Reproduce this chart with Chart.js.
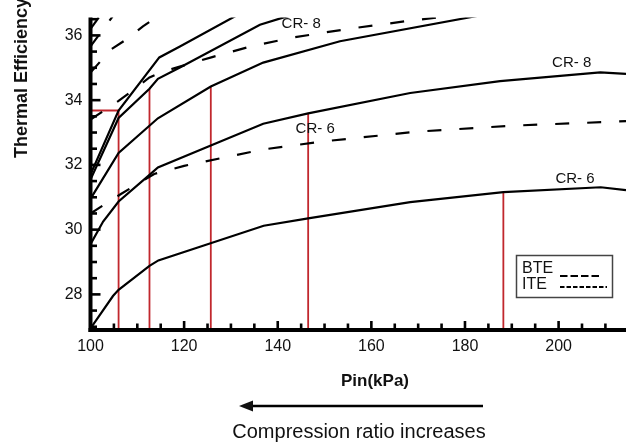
<!DOCTYPE html>
<html>
<head>
<meta charset="utf-8">
<script src="https://cdn.jsdelivr.net/npm/chart.js@4.4.1/dist/chart.umd.min.js"></script>
<style>
  html, body { margin: 0; padding: 0; background: #fff; }
  #wrap { width: 626px; height: 444px; }
</style>
</head>
<body>
<div id="wrap"><canvas id="chart" width="626" height="444"></canvas></div>
<script>
// Intake pressure (kPa) against thermal efficiency (%).
// Solid = brake thermal efficiency, dashed = indicated thermal efficiency.
const bteCr6Pin = [100, 104.8, 106, 112.6, 114.5, 125.5, 137, 146.5, 168.3, 188.2, 209, 214.4];
const bteCr6Eff = [26.95, 27.95, 28.14, 28.88, 29.05, 29.57, 30.12, 30.35, 30.85, 31.16, 31.31, 31.22];

const bteCr8Pin = [100, 102.7, 106, 112.6, 114.4, 125.7, 136.9, 146.5, 168.3, 187.5, 208.9, 214.4];
const bteCr8Eff = [29.55, 30.25, 30.87, 31.69, 31.92, 32.6, 33.27, 33.59, 34.22, 34.59, 34.86, 34.81];

const bteCr10Pin = [100, 106, 114.4, 125.7, 136.9, 153.3, 182.6];
const bteCr10Eff = [30.95, 32.37, 33.44, 34.42, 35.16, 35.82, 36.6];

const bteCr12Pin = [100, 106, 112.6, 114.4, 119.1, 136.2, 141.1, 146];
const bteCr12Eff = [31.55, 33.45, 34.35, 34.66, 35.01, 36.33, 36.55, 36.75];

const bteCr14Pin = [100, 106, 114.7, 119.1, 131];
const bteCr14Eff = [31.7, 33.68, 35.32, 35.66, 36.6];

const iteCr6Pin = [100, 106.5, 113.6, 120, 137, 150, 170, 190, 214.4];
const iteCr6Eff = [30.5, 31.1, 31.72, 31.97, 32.48, 32.73, 33.03, 33.21, 33.35];

const iteCr8Pin = [100, 106, 109, 112.6, 115.4, 126, 134, 143, 155, 168, 180];
const iteCr8Eff = [33.4, 33.98, 34.3, 34.7, 34.88, 35.33, 35.65, 35.93, 36.2, 36.45, 36.65];

const iteCr10Pin = [100, 104.4, 107.6, 111.2, 115];
const iteCr10Eff = [34.85, 35.57, 35.87, 36.28, 36.65];

const iteCr12Pin = [100, 104.7];
const iteCr12Eff = [35.66, 36.58];

const iteCr14Pin = [100, 102];
const iteCr14Eff = [36.2, 36.6];

// operating points picked off the curves (red drop lines)
const markPin = [106, 112.6, 125.7, 146.5, 188.2];
const markEff = [33.68, 34.35, 34.42, 33.59, 31.16];

const pinTicks = [100, 120, 140, 160, 180, 200];
const effTicks = [28, 30, 32, 34, 36];
const pinRange = [100, 214.4];
const effRange = [26.9, 36.55];

const curveLabels = [
  { text: 'CR- 8', pin: 145, eff: 36.36 },
  { text: 'CR- 8', pin: 202.8, eff: 35.16 },
  { text: 'CR- 6', pin: 148, eff: 33.1 },
  { text: 'CR- 6', pin: 203.5, eff: 31.58 },
];

const FONT = "'Liberation Sans', Arial, Helvetica, sans-serif";

function toPoints(xs, ys) {
  return xs.map((x, i) => ({ x, y: ys[i] }));
}

function curve(xs, ys, dashed) {
  return {
    data: toPoints(xs, ys),
    borderColor: '#000',
    borderWidth: 2.2,
    borderDash: dashed ? [14, 18] : [],
    pointRadius: 0,
    tension: 0,
    fill: false,
  };
}

function dropLine(points) {
  return {
    data: points,
    borderColor: '#c1272d',
    borderWidth: 1.8,
    pointRadius: 0,
    tension: 0,
    fill: false,
  };
}

const drops = markPin.map((p, i) => dropLine([{ x: p, y: effRange[0] }, { x: p, y: markEff[i] }]));
drops.push(dropLine([{ x: pinRange[0], y: markEff[0] }, { x: markPin[0], y: markEff[0] }]));

const datasets = [
  curve(bteCr6Pin, bteCr6Eff, false),
  curve(bteCr8Pin, bteCr8Eff, false),
  curve(bteCr10Pin, bteCr10Eff, false),
  curve(bteCr12Pin, bteCr12Eff, false),
  curve(bteCr14Pin, bteCr14Eff, false),
  curve(iteCr6Pin, iteCr6Eff, true),
  curve(iteCr8Pin, iteCr8Eff, true),
  curve(iteCr10Pin, iteCr10Eff, true),
  curve(iteCr12Pin, iteCr12Eff, true),
  curve(iteCr14Pin, iteCr14Eff, true),
  ...drops,
];

// axis lines, inward tick marks and the text around the plot
const decorations = {
  id: 'decorations',
  afterDraw(chart) {
    const { ctx, chartArea: a, scales: { x, y } } = chart;
    ctx.save();
    ctx.strokeStyle = '#000';
    ctx.lineCap = 'butt';

    const seg = (x1, y1, x2, y2) => {
      ctx.beginPath();
      ctx.moveTo(x1, y1);
      ctx.lineTo(x2, y2);
      ctx.stroke();
    };

    ctx.lineWidth = 2.6;
    for (let v = pinRange[0]; v <= pinRange[1]; v += 5) {
      const px = x.getPixelForValue(v);
      const len = pinTicks.includes(v) ? 9 : 6.5;
      seg(px, a.bottom, px, a.bottom - len);
    }
    for (let v = 27; v <= effRange[1]; v += 0.5) {
      const py = y.getPixelForValue(v);
      const len = effTicks.includes(v) ? 10 : 6.5;
      seg(a.left, py, a.left + len, py);
    }

    ctx.lineWidth = 4;
    seg(a.left, a.top, a.left, a.bottom + 2);
    seg(a.left - 2, a.bottom, a.right, a.bottom);

    ctx.fillStyle = '#111';
    ctx.textAlign = 'center';
    ctx.textBaseline = 'middle';

    ctx.font = `15px ${FONT}`;
    curveLabels.forEach((l) => {
      ctx.fillText(l.text, x.getPixelForValue(l.pin), y.getPixelForValue(l.eff));
    });

    ctx.font = `bold 17px ${FONT}`;
    ctx.fillText('Pin(kPa)', 375, 381);

    ctx.save();
    ctx.translate(22, 158);
    ctx.rotate(-Math.PI / 2);
    ctx.textAlign = 'left';
    ctx.font = `bold 18px ${FONT}`;
    ctx.fillText('Thermal Efficiency', 0, 0);
    ctx.restore();

    // arrow under the axis title
    ctx.lineWidth = 2.4;
    seg(483, 406, 250, 406);
    ctx.beginPath();
    ctx.moveTo(239, 406);
    ctx.lineTo(253, 400.5);
    ctx.lineTo(253, 411.5);
    ctx.closePath();
    ctx.fill();

    ctx.font = `20px ${FONT}`;
    ctx.fillText('Compression ratio increases', 359, 432);

    // line-style key
    ctx.strokeStyle = '#444';
    ctx.lineWidth = 1.5;
    ctx.strokeRect(516.5, 255.5, 96, 42);
    ctx.textAlign = 'left';
    ctx.font = `16px ${FONT}`;
    ctx.fillText('BTE', 522, 269);
    ctx.fillText('ITE', 522, 284.5);
    ctx.strokeStyle = '#000';
    ctx.lineWidth = 1.8;
    ctx.setLineDash([7.5, 3]);
    seg(560, 276, 600, 276);
    ctx.setLineDash([4.5, 2]);
    seg(560, 287, 607, 287);
    ctx.setLineDash([]);

    ctx.restore();
  },
};

new Chart(document.getElementById('chart'), {
  type: 'line',
  data: { datasets },
  options: {
    responsive: false,
    devicePixelRatio: 1,
    animation: false,
    layout: { padding: { left: 0, right: 0, top: 12.7, bottom: 0 } },
    plugins: {
      legend: { display: false },
      tooltip: { enabled: false },
    },
    scales: {
      x: {
        type: 'linear',
        min: pinRange[0],
        max: pinRange[1],
        grid: { display: false, drawTicks: false },
        border: { display: false },
        afterBuildTicks(scale) {
          scale.ticks = pinTicks.map((value) => ({ value }));
        },
        afterFit(scale) {
          scale.height = 114;
        },
        ticks: {
          autoSkip: false,
          maxRotation: 0,
          padding: 7,
          color: '#111',
          font: { family: FONT, size: 16 },
        },
      },
      y: {
        type: 'linear',
        min: effRange[0],
        max: effRange[1],
        grid: { display: false, drawTicks: false },
        border: { display: false },
        afterBuildTicks(scale) {
          scale.ticks = effTicks.map((value) => ({ value }));
        },
        afterFit(scale) {
          scale.width = 90.5;
        },
        ticks: {
          padding: 8,
          color: '#111',
          font: { family: FONT, size: 16 },
        },
      },
    },
  },
  plugins: [decorations],
});
</script>
</body>
</html>
